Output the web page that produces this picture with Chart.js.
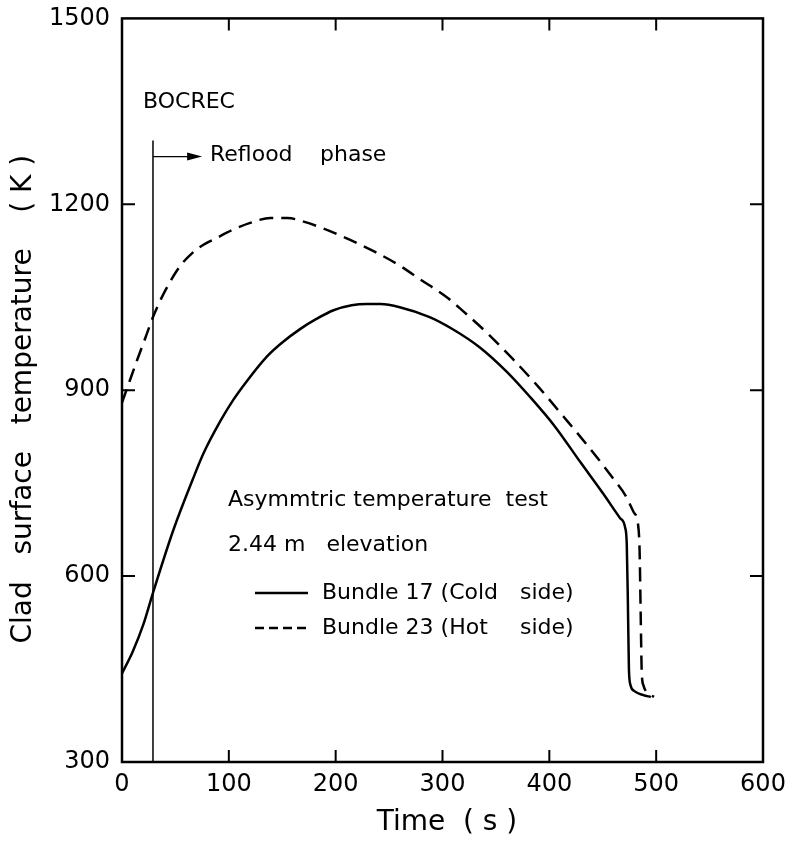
<!DOCTYPE html>
<html>
<head>
<meta charset="utf-8">
<script src="https://cdn.jsdelivr.net/npm/chart.js@4.4.0/dist/chart.umd.min.js"></script>
<style>
  html, body { margin: 0; padding: 0; background: #fff; }
  #wrap { width: 793px; height: 841px; position: relative; }
</style>
</head>
<body>
<div id="wrap"><canvas id="chart"></canvas></div>
<script>
// Bundle 17 (cold side) - time (s) / clad temperature (K)
const coldTime = [0, 10, 20, 29, 48, 66, 76, 92, 104, 117, 136, 150, 167, 182, 198, 215, 229, 242, 260, 288, 310, 335, 360, 382, 405, 429, 450, 466, 471, 472.5, 473.5, 474.5, 476, 480, 488, 495];
const coldTemp = [443, 478, 522, 573, 674, 755, 797, 850, 884, 915, 955, 977, 999, 1015, 1029, 1037, 1039, 1039, 1034, 1018, 998, 969, 930, 889, 842, 784, 734, 694, 678, 650, 560, 450, 424, 414, 408, 405];

// Bundle 23 (hot side)
const hotTime = [0, 7, 14, 22, 29, 37, 44, 51, 57, 65, 73, 89, 104, 120, 139, 155, 170, 190, 213, 236, 260, 279, 304, 319, 342, 366, 390, 413, 437, 460, 472, 479, 483, 484.5, 485.5, 486.5, 488, 491, 495, 498];
const hotTemp = [880, 914, 948, 985, 1018, 1049, 1072, 1092, 1106, 1120, 1131, 1146, 1159, 1170, 1178, 1178, 1172, 1160, 1143, 1124, 1101, 1079, 1050, 1028, 992, 950, 905, 858, 808, 757, 728, 703, 684, 640, 540, 445, 424, 413, 408, 405];

// BOCREC marker
const bocrecTime = 29;
const bocrecTemp = [1303, 300];
const arrowEndTime = 75;
const arrowTemp = 1277;

const xTicks = [0, 100, 200, 300, 400, 500, 600];
const yTicks = [300, 600, 900, 1200, 1500];

Chart.defaults.font.family = 'DejaVu Sans';
Chart.defaults.color = '#000';

const toPoints = (xs, ys) => xs.map((x, i) => ({ x: x, y: ys[i] }));

// frame, inward ticks, arrow and text labels
const decorations = {
    id: 'decorations',
    afterDatasetsDraw(chart) {
        const { ctx, chartArea: a, scales: { x, y } } = chart;
        ctx.save();
        ctx.strokeStyle = '#000';
        ctx.fillStyle = '#000';

        // box
        ctx.lineWidth = 2.5;
        ctx.strokeRect(a.left, a.top, a.right - a.left, a.bottom - a.top);

        // inward ticks
        ctx.lineWidth = 2;
        ctx.beginPath();
        xTicks.slice(1, -1).forEach(v => {
            const px = x.getPixelForValue(v);
            ctx.moveTo(px, a.bottom); ctx.lineTo(px, a.bottom - 12);
            ctx.moveTo(px, a.top); ctx.lineTo(px, a.top + 12);
        });
        yTicks.slice(1, -1).forEach(v => {
            const py = y.getPixelForValue(v);
            ctx.moveTo(a.left, py); ctx.lineTo(a.left + 13, py);
            ctx.moveTo(a.right, py); ctx.lineTo(a.right - 13, py);
        });
        ctx.stroke();

        // reflood arrow
        const ax0 = x.getPixelForValue(bocrecTime);
        const ax1 = x.getPixelForValue(arrowEndTime);
        const ay = y.getPixelForValue(arrowTemp);
        ctx.lineWidth = 1.3;
        ctx.beginPath();
        ctx.moveTo(ax0, ay); ctx.lineTo(ax1 - 6, ay);
        ctx.stroke();
        ctx.beginPath();
        ctx.moveTo(ax1, ay);
        ctx.lineTo(ax1 - 15, ay - 4);
        ctx.lineTo(ax1 - 15, ay + 4);
        ctx.closePath();
        ctx.fill();

        // texts
        ctx.font = '22px DejaVu Sans';
        ctx.textBaseline = 'middle';
        ctx.textAlign = 'left';
        ctx.fillText('BOCREC', 143, 102);
        ctx.fillText('Reflood', 210, 155);
        ctx.fillText('phase', 320, 155);
        ctx.fillText('Asymmtric temperature  test', 228, 500);
        ctx.fillText('2.44 m   elevation', 228, 545);
        ctx.fillText('Bundle 17 (Cold', 322, 593);
        ctx.fillText('side)', 520, 593);
        ctx.fillText('Bundle 23 (Hot', 322, 628);
        ctx.fillText('side)', 520, 628);

        // legend samples
        ctx.lineWidth = 2.5;
        ctx.beginPath();
        ctx.moveTo(255, 593); ctx.lineTo(308, 593);
        ctx.stroke();
        ctx.setLineDash([9, 5]);
        ctx.beginPath();
        ctx.moveTo(255, 628); ctx.lineTo(308, 628);
        ctx.stroke();
        ctx.restore();
    }
};

new Chart(document.getElementById('chart'), {
    type: 'line',
    data: {
        datasets: [{
            label: 'Bundle 17 (Cold side)',
            data: toPoints(coldTime, coldTemp),
            borderColor: '#000',
            borderWidth: 2.5,
            pointRadius: 0,
            cubicInterpolationMode: 'monotone'
        }, {
            label: 'Bundle 23 (Hot side)',
            data: toPoints(hotTime, hotTemp),
            borderColor: '#000',
            borderWidth: 2.5,
            borderDash: [14, 8],
            pointRadius: 0,
            cubicInterpolationMode: 'monotone'
        }, {
            label: 'BOCREC',
            data: toPoints([bocrecTime, bocrecTime], bocrecTemp),
            borderColor: '#000',
            borderWidth: 1.5,
            pointRadius: 0
        }]
    },
    options: {
        responsive: true,
        maintainAspectRatio: false,
        animation: false,
        devicePixelRatio: 1,
        layout: { padding: { left: 0, top: 18, right: 30, bottom: 0 } },
        plugins: {
            legend: { display: false },
            tooltip: { enabled: false }
        },
        scales: {
            x: {
                type: 'linear',
                min: 0,
                max: 600,
                afterBuildTicks: s => { s.ticks = xTicks.map(v => ({ value: v })); },
                afterFit: s => { s.height = 79; },
                grid: { display: false },
                border: { display: false },
                ticks: { font: { size: 24 }, padding: 0, maxRotation: 0, callback: v => String(v) },
                title: {
                    display: true,
                    text: ' Time  ( s )',
                    font: { size: 28 },
                    padding: { top: 0, bottom: 1 }
                }
            },
            y: {
                type: 'linear',
                min: 300,
                max: 1500,
                afterBuildTicks: s => { s.ticks = yTicks.map(v => ({ value: v })); },
                afterFit: s => { s.width = 122; },
                grid: { display: false },
                border: { display: false },
                ticks: { font: { size: 24 }, padding: 4, callback: v => String(v) },
                title: {
                    display: true,
                    text: 'Clad   surface   temperature    ( K )  ',
                    font: { size: 28 },
                    padding: { top: 7, bottom: 0 }
                }
            }
        }
    },
    plugins: [decorations]
});
</script>
</body>
</html>
